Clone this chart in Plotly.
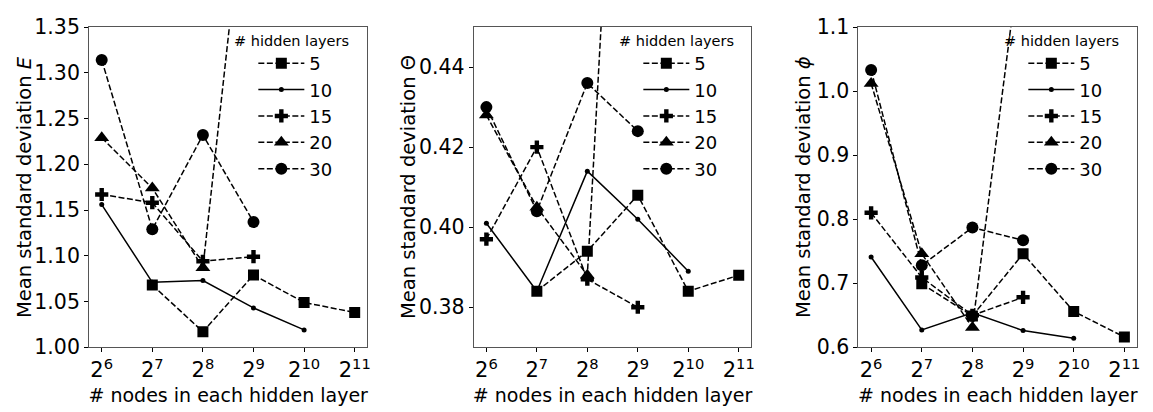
import math
import plotly.graph_objects as go

nodes = [64, 128, 256, 512, 1024, 2048]
tick_text = ["2<sup>6</sup>", "2<sup>7</sup>", "2<sup>8</sup>", "2<sup>9</sup>", "2<sup>10</sup>", "2<sup>11</sup>"]
layers = ["5", "10", "15", "20", "30"]

# Panel E
E_5 = [None, 1.068, 1.017, 1.079, 1.049, 1.038]
E_10 = [1.156, 1.071, 1.073, 1.043, 1.019, None]
E_15 = [1.167, 1.158, 1.094, 1.099, None, None]
E_20 = [1.229, 1.174, 1.087, 1.59, None, None]
E_30 = [1.314, 1.129, 1.232, 1.137, None, None]

# Panel Theta
T_5 = [None, 0.384, 0.394, 0.408, 0.384, 0.388]
T_10 = [0.401, 0.384, 0.414, 0.402, 0.389, None]
T_15 = [0.397, 0.420, 0.387, 0.380, None, None]
T_20 = [0.428, 0.405, 0.388, 0.616, None, None]
T_30 = [0.430, 0.404, 0.436, 0.424, None, None]

# Panel phi
P_5 = [None, 0.699, 0.649, 0.746, 0.656, 0.616]
P_10 = [0.741, 0.627, 0.654, 0.626, 0.614, None]
P_15 = [0.810, 0.709, 0.650, 0.678, None, None]
P_20 = [1.012, 0.746, 0.631, 1.25, None, None]
P_30 = [1.033, 0.728, 0.787, 0.767, None, None]

panels = [
    dict(series=[E_5, E_10, E_15, E_20, E_30], ylabel="Mean standard deviation <i>E</i>",
         yrange=[1.00, 1.35], ytick=[1.00, 1.05, 1.10, 1.15, 1.20, 1.25, 1.30, 1.35], yfmt=".2f",
         xdom=[89.3, 368.3], leg_x=254, title_cx=292, ytitle_x=24),
    dict(series=[T_5, T_10, T_15, T_20, T_30], ylabel="Mean standard deviation Θ",
         yrange=[0.37, 0.45], ytick=[0.38, 0.40, 0.42, 0.44], yfmt=".2f",
         xdom=[475, 753.3], leg_x=640, title_cx=678, ytitle_x=409),
    dict(series=[P_5, P_10, P_15, P_20, P_30], ylabel="Mean standard deviation <i>ϕ</i>",
         yrange=[0.6, 1.1], ytick=[0.6, 0.7, 0.8, 0.9, 1.0, 1.1], yfmt=".1f",
         xdom=[860.7, 1140], leg_x=1026, title_cx=1064, ytitle_x=805),
]

W, H = 1153, 412
styles = [
    dict(symbol="square", size=11, dash="6px,2.5px"),
    dict(symbol="circle", size=5, dash="solid"),
    dict(symbol="cross", size=11, dash="6px,2.5px"),
    dict(symbol="triangle-up", size=13, dash="6px,2.5px"),
    dict(symbol="circle", size=12, dash="6px,2.5px"),
]

fig = go.Figure()
font = "DejaVu Sans"
xr = [math.log10(2 ** 5.75), math.log10(2 ** 11.25)]
ytop, ybot = 16, 356

for i, p in enumerate(panels):
    k = "" if i == 0 else str(i + 1)
    legname = "legend" if i == 0 else f"legend{i + 1}"
    for j, s in enumerate(p["series"]):
        st = styles[j]
        fig.add_trace(go.Scatter(
            x=nodes, y=s, mode="lines+markers", name=layers[j],
            xaxis="x" + k, yaxis="y" + k, legend=legname,
            line=dict(color="black", width=1.5, dash=st["dash"]),
            marker=dict(symbol=st["symbol"], size=st["size"], color="black", line=dict(width=0)),
            connectgaps=False,
        ))
    fig.layout["xaxis" + k] = dict(
        type="log", range=xr, domain=[p["xdom"][0] / W, p["xdom"][1] / W],
        anchor="y" + k, tickvals=nodes, ticktext=tick_text,
        ticks="outside", ticklen=4, tickcolor="black", tickwidth=1,
        showline=True, linecolor="#555", linewidth=1, mirror=True, showgrid=False, zeroline=False,
        tickfont=dict(family=font, size=21, color="black"),
        title=dict(text="# nodes in each hidden layer", font=dict(family=font, size=19, color="black"), standoff=7),
    )
    fig.layout["yaxis" + k] = dict(
        range=p["yrange"], domain=[1 - ybot / H, 1 - ytop / H], anchor="x" + k,
        tickvals=p["ytick"], tickformat=p["yfmt"],
        ticks="outside", ticklen=4, tickcolor="black", tickwidth=1,
        showline=True, linecolor="#555", linewidth=1, mirror=True, showgrid=False, zeroline=False,
        tickfont=dict(family=font, size=20.5, color="black"),
    )
    fig.add_annotation(
        text=p["ylabel"], textangle=-90, xref="paper", yref="paper",
        x=p["ytitle_x"] / W, y=1 - ((ytop + ybot) / 2) / H, xanchor="center", yanchor="middle",
        showarrow=False, font=dict(family=font, size=19.5, color="black"),
    )
    fig.add_annotation(
        text="# hidden layers", xref="paper", yref="paper",
        x=p["title_cx"] / W, y=1 - 31 / H, xanchor="center", yanchor="middle",
        showarrow=False, font=dict(family=font, size=14.5, color="black"),
    )
    fig.layout[legname] = dict(
        x=p["leg_x"] / W, y=1 - 35 / H, xanchor="left", yanchor="top",
        bgcolor="rgba(0,0,0,0)", borderwidth=0,
        font=dict(family=font, size=18, color="black"),
        itemwidth=46, tracegroupgap=0,
    )

fig.update_layout(
    width=W, height=H, margin=dict(l=0, r=0, t=0, b=0),
    paper_bgcolor="white", plot_bgcolor="white", showlegend=True,
    font=dict(family=font, color="black"),
)
fig.write_html("out.html")
